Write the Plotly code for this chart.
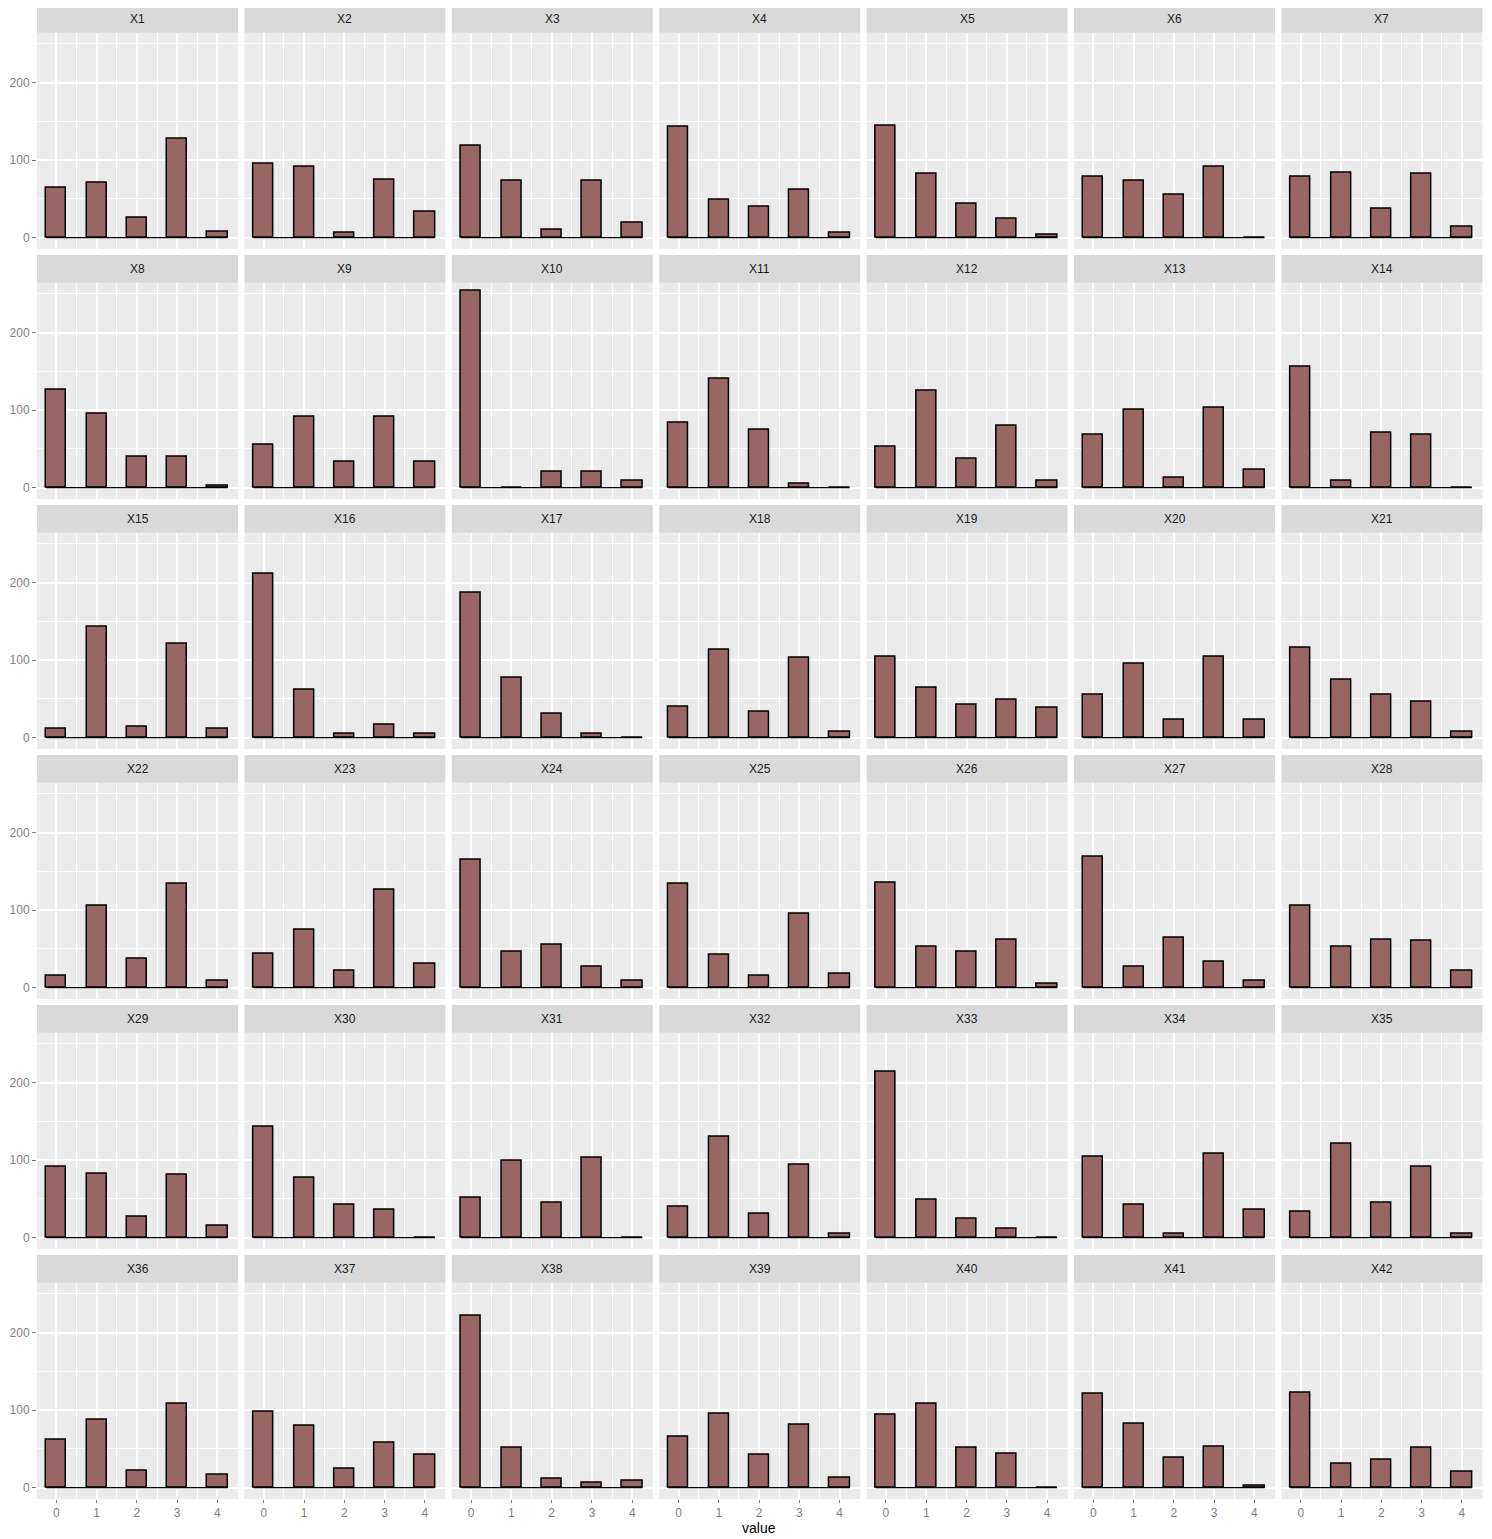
import plotly.graph_objects as go

# value categories on the x axis
values = [0, 1, 2, 3, 4]
panel_names = [f"X{i}" for i in range(1, 43)]

# counts per panel
X1 = [64, 71, 26, 128, 8]
X2 = [96, 91, 6, 75, 34]
X3 = [119, 74, 10, 73, 19]
X4 = [143, 49, 40, 62, 6]
X5 = [145, 82, 44, 25, 4]
X6 = [79, 73, 55, 91, 0]
X7 = [79, 84, 37, 82, 14]
X8 = [126, 96, 40, 40, 2]
X9 = [56, 91, 34, 91, 34]
X10 = [254, 0, 20, 20, 9]
X11 = [84, 140, 75, 5, 0]
X12 = [53, 125, 38, 80, 9]
X13 = [68, 100, 13, 103, 23]
X14 = [156, 9, 71, 68, 0]
X15 = [12, 143, 14, 121, 12]
X16 = [212, 62, 5, 17, 5]
X17 = [187, 78, 31, 5, 0]
X18 = [40, 113, 34, 103, 8]
X19 = [105, 65, 43, 49, 39]
X20 = [56, 96, 23, 105, 23]
X21 = [116, 75, 56, 47, 8]
X22 = [16, 106, 38, 134, 9]
X23 = [44, 75, 22, 127, 31]
X24 = [165, 47, 56, 27, 9]
X25 = [134, 42, 16, 96, 18]
X26 = [136, 53, 47, 62, 5]
X27 = [169, 27, 65, 34, 9]
X28 = [106, 53, 62, 60, 22]
X29 = [91, 83, 27, 81, 16]
X30 = [143, 78, 43, 36, 0]
X31 = [52, 99, 45, 103, 0]
X32 = [40, 130, 31, 94, 5]
X33 = [214, 49, 25, 12, 0]
X34 = [105, 43, 5, 109, 36]
X35 = [34, 121, 45, 92, 5]
X36 = [62, 88, 22, 109, 17]
X37 = [98, 80, 25, 58, 42]
X38 = [222, 51, 11, 6, 9]
X39 = [66, 95, 42, 81, 13]
X40 = [94, 109, 52, 44, 0]
X41 = [121, 82, 39, 53, 2]
X42 = [123, 31, 36, 51, 21]

counts = [X1, X2, X3, X4, X5, X6, X7, X8, X9, X10, X11, X12, X13, X14,
          X15, X16, X17, X18, X19, X20, X21, X22, X23, X24, X25, X26, X27, X28,
          X29, X30, X31, X32, X33, X34, X35, X36, X37, X38, X39, X40, X41, X42]

# the page body has an 8px margin, so the figure is shifted by it
OFF = 8
W, H = 1492 - OFF, 1539 - OFF
NCOL, NROW = 7, 6
BAR_FILL = "#996666"
PANEL_BG = "#EBEBEB"
STRIP_BG = "#D9D9D9"
TICK_COL = "#7F7F7F"
FONT = "Liberation Sans, Arial, sans-serif"


def px_x(p):
    return (p - OFF) / W


def px_y(p):
    return min(1.0, 1 - (p - OFF) / H)


fig = go.Figure()
layout = dict(
    width=W, height=H, autosize=False,
    margin=dict(l=0, r=0, t=0, b=0),
    paper_bgcolor="white", plot_bgcolor=PANEL_BG,
    showlegend=False, bargap=0,
    font=dict(family=FONT, size=12, color="black"),
)
shapes, annotations = [], []

for k, (name, ys) in enumerate(zip(panel_names, counts)):
    r, c = divmod(k, NCOL)
    x0 = 37 + 207.4 * c
    x1 = x0 + 201
    strip_top = 5 + 250 * r
    top = 32.7 + 250 * r
    bottom = 249 + 250 * r
    suffix = "" if k == 0 else str(k + 1)
    xa, ya = "x" + suffix, "y" + suffix

    # zero-count bins show up as a black line along the baseline
    fig.add_trace(go.Scatter(
        x=[values[0] - 0.25, values[-1] + 0.25], y=[0, 0],
        mode="lines", line=dict(color="black", width=1.3),
        xaxis=xa, yaxis=ya, hoverinfo="skip"))
    fig.add_trace(go.Bar(
        x=values, y=ys, width=0.5,
        marker=dict(color=BAR_FILL, line=dict(color="black", width=1.5)),
        xaxis=xa, yaxis=ya, name=name))

    last_row = r == NROW - 1
    first_col = c == 0
    layout["xaxis" + suffix] = dict(
        domain=[px_x(x0), px_x(x1)], anchor=ya, range=[-0.48, 4.51],
        tickmode="array", tickvals=values,
        ticktext=[str(v) for v in values],
        showticklabels=last_row,
        ticks="outside" if last_row else "", ticklen=3, tickcolor=TICK_COL,
        tickfont=dict(color=TICK_COL, size=12),
        showgrid=True, gridcolor="white", gridwidth=1.6,
        minor=dict(dtick=0.5, tick0=0.5, showgrid=True, gridcolor="white",
                   gridwidth=0.8),
        zeroline=False, showline=False, fixedrange=True)
    layout["yaxis" + suffix] = dict(
        domain=[px_y(bottom), px_y(top)], anchor=xa, range=[-14.6, 264.5],
        tickmode="array", tickvals=[0, 100, 200],
        showticklabels=first_col,
        ticks="outside" if first_col else "", ticklen=4, tickcolor=TICK_COL,
        tickfont=dict(color=TICK_COL, size=12),
        showgrid=True, gridcolor="white", gridwidth=1.6,
        minor=dict(dtick=50, tick0=50, showgrid=True, gridcolor="white",
                   gridwidth=0.8),
        zeroline=False, showline=False, fixedrange=True)

    shapes.append(dict(type="rect", xref="paper", yref="paper",
                       x0=px_x(x0), x1=px_x(x1),
                       y0=px_y(top), y1=px_y(strip_top),
                       fillcolor=STRIP_BG, line=dict(width=0), layer="below"))
    annotations.append(dict(text=name, xref="paper", yref="paper",
                            x=px_x((x0 + x1) / 2), y=px_y((strip_top + top) / 2),
                            showarrow=False, xanchor="center", yanchor="middle",
                            font=dict(size=12, color="#1A1A1A")))

annotations.append(dict(text="value", xref="paper", yref="paper",
                        x=px_x(759), y=px_y(1528), showarrow=False,
                        xanchor="center", yanchor="middle",
                        font=dict(size=14, color="black")))

layout["shapes"] = shapes
layout["annotations"] = annotations
fig.update_layout(**layout)

fig.write_html("out.html")
